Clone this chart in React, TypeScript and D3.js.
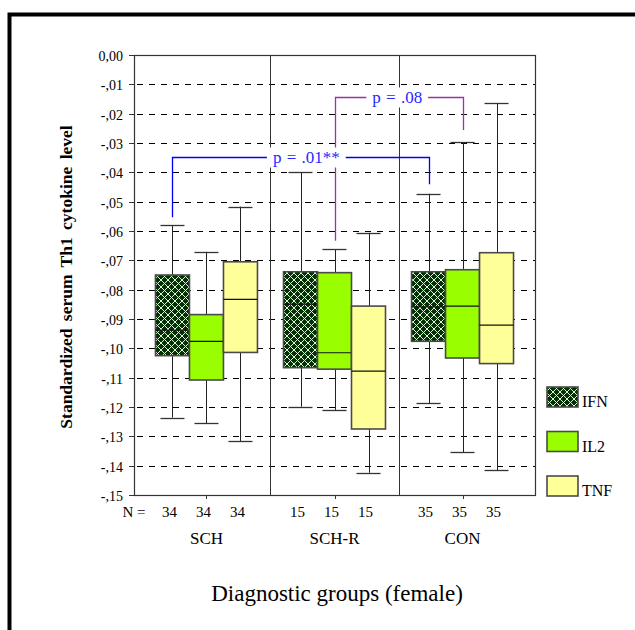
import React from "react";
import * as d3 from "d3";

const groups = ["SCH", "SCH-R", "CON"];
const series = ["IFN", "IL2", "TNF"];
const nCounts = [34, 15, 35];
const seriesColors = ["url(#ifnHatch)", "#99FF00", "#FFFF99"];

// per series, per group
const upperWhisker = [
  [-0.058, -0.040, -0.0473],
  [-0.0671, -0.0663, -0.0297],
  [-0.0517, -0.0606, -0.0164],
];
const q3 = [
  [-0.075, -0.0739, -0.0739],
  [-0.0885, -0.0742, -0.0732],
  [-0.0705, -0.0856, -0.0674],
];
const medians = [
  [-0.0938, -0.0849, -0.0859],
  [-0.0976, -0.1015, -0.0856],
  [-0.0833, -0.1078, -0.0921],
];
const q1 = [
  [-0.1025, -0.1066, -0.0976],
  [-0.1108, -0.1071, -0.1033],
  [-0.1014, -0.1275, -0.1052],
];
const lowerWhisker = [
  [-0.1236, -0.1199, -0.1188],
  [-0.1256, -0.121, -0.1354],
  [-0.1316, -0.1424, -0.1415],
];

const tickValues = d3.range(0, 16).map((i) => -i / 100);
const tickLabels = [
  "0,00", "-,01", "-,02", "-,03", "-,04", "-,05", "-,06", "-,07",
  "-,08", "-,09", "-,10", "-,11", "-,12", "-,13", "-,14", "-,15",
];

// significance annotations (group/series endpoints, levels in data units, label at group coordinate)
const brackets = [
  { label: "p = .08", color: "#9933A0", g1: 1, s1: 1, g2: 2, s2: 1, level: -0.0144, end1: -0.0633, end2: -0.0256, labelAt: 1.49 },
  { label: "p = .01**", color: "#0000FF", g1: 0, s1: 0, g2: 2, s2: 0, level: -0.0349, end1: -0.0553, end2: -0.0441, labelAt: 0.78 },
];

const FONT = "Liberation Serif";

function measure(text: string, size: number): number {
  try {
    const ctx = document.createElement("canvas").getContext("2d");
    if (ctx) {
      ctx.font = `${size}px "${FONT}"`;
      return ctx.measureText(text).width;
    }
  } catch (e) {}
  return text.length * size * 0.45;
}

export default function App() {
  const left = 134, right = 535, top = 55, bottom = 495;
  const x = d3.scaleLinear().domain([-0.566, 2.566]).range([left, right]);
  const y = d3.scaleLinear().domain([0, -0.15]).range([top, bottom]);
  const band = d3.scaleBand<string>().domain(series).range([-51, 51]).padding(0);
  const bw = band.bandwidth();
  const cx = (g: number, s: number) => x(g) + (band(series[s]) as number) + bw / 2;
  const px = (v: number) => Math.round(v) + 0.5;
  const capW = 24;

  return (
    <svg
      width={635}
      height={630}
      style={{ position: "absolute", left: 0, top: 0, display: "block" }}
      fontFamily={FONT}
    >
      <defs>
        <pattern id="ifnHatch" patternUnits="userSpaceOnUse" width={7} height={7}>
          <rect width={7} height={7} fill="#003300" />
          <path d="M-1,-1 L8,8 M8,-1 L-1,8" stroke="#e4eee4" strokeWidth={1} fill="none" />
        </pattern>
      </defs>
      <rect width={635} height={630} fill="#fff" />
      <rect x={9.5} y={14.5} width={800} height={800} fill="none" stroke="#000" strokeWidth={4} />

      {tickValues.slice(1, -1).map((v) => (
        <line key={"g" + v} x1={left} x2={right} y1={px(y(v))} y2={px(y(v))}
          stroke="#000" strokeDasharray="6,6" strokeDashoffset={-3} />
      ))}

      {tickValues.map((v, i) => (
        <g key={"t" + i}>
          <line x1={left - 5} x2={left} y1={px(y(v))} y2={px(y(v))} stroke="#333" />
          <text x={left - 11} y={px(y(v)) + 5} textAnchor="end" fontSize={14} fontFamily={FONT}>
            {tickLabels[i]}
          </text>
        </g>
      ))}

      {[0.5, 1.5].map((v) => (
        <line key={"s" + v} x1={px(x(v))} x2={px(x(v))} y1={top} y2={bottom} stroke="#333" />
      ))}

      <rect x={left + 0.5} y={top + 0.5} width={right - left} height={bottom - top}
        fill="none" stroke="#333" strokeWidth={1.2} />

      {groups.map((_, g) => (
        <line key={"bt" + g} x1={px(x(g))} x2={px(x(g))} y1={bottom} y2={bottom + 4} stroke="#333" />
      ))}

      {series.map((_, s) =>
        groups.map((_, g) => {
          const c = cx(g, s);
          const x0 = c - bw / 2;
          return (
            <g key={`b${s}-${g}`}>
              <line x1={px(c)} x2={px(c)} y1={y(upperWhisker[s][g])} y2={y(q3[s][g])} stroke="#222" />
              <line x1={px(c)} x2={px(c)} y1={y(q1[s][g])} y2={y(lowerWhisker[s][g])} stroke="#222" />
              {[upperWhisker[s][g], lowerWhisker[s][g]].map((v, k) => (
                <line key={k} x1={c - capW / 2} x2={c + capW / 2} y1={px(y(v))} y2={px(y(v))}
                  stroke="#333" strokeWidth={1.3} />
              ))}
              <rect x={x0} y={y(q3[s][g])} width={bw} height={y(q1[s][g]) - y(q3[s][g])}
                fill={seriesColors[s]} stroke="#4a4a4a" strokeWidth={1.6} />
              <line x1={x0} x2={x0 + bw} y1={y(medians[s][g])} y2={y(medians[s][g])}
                stroke="#111" strokeWidth={1.2} />
            </g>
          );
        })
      )}

      {brackets.map((b) => {
        const xa = px(cx(b.g1, b.s1));
        const xb = px(cx(b.g2, b.s2));
        const yl = px(y(b.level));
        const mid = x(b.labelAt);
        const w = measure(b.label, 17) + 4;
        return (
          <g key={b.label}>
            <path d={`M${xa},${y(b.end1)} V${yl} H${xb} V${y(b.end2)}`} fill="none"
              stroke={b.color} strokeWidth={1.3} />
            <rect x={mid - w / 2 - 5} y={yl - 10} width={w + 10} height={20} fill="#fff" />
            <text x={mid} y={yl + 5} textAnchor="middle" fontSize={17} wordSpacing={1}
              fill="#2828FF" fontFamily={FONT}>
              {b.label}
            </text>
          </g>
        );
      })}

      <text x={left} y={517} textAnchor="middle" fontSize={15} fontFamily={FONT}>N =</text>
      {series.map((_, s) =>
        groups.map((_, g) => (
          <text key={`n${s}-${g}`} x={cx(g, s) - 3} y={517} textAnchor="middle" fontSize={15} fontFamily={FONT}>
            {String(nCounts[g])}
          </text>
        ))
      )}

      {groups.map((name, g) => (
        <text key={name} x={x(g)} y={544} textAnchor="middle" fontSize={17} fontFamily={FONT}>
          {name}
        </text>
      ))}

      <text x={337} y={601} textAnchor="middle" fontSize={23} fontFamily={FONT}>
        Diagnostic groups (female)
      </text>

      <text transform="translate(72,277) rotate(-90)" textAnchor="middle" fontSize={17.5}
        fontWeight="bold" wordSpacing={3} fontFamily={FONT}>
        Standardized serum Th1 cytokine level
      </text>

      {series.map((name, s) => {
        const ly = 387 + s * 44.5;
        return (
          <g key={"l" + name}>
            <rect x={547} y={ly} width={31} height={20} fill={seriesColors[s]} stroke="#4a4a4a" strokeWidth={1.6} />
            <text x={582} y={ly + 20} fontSize={16} fontFamily={FONT}>{name}</text>
          </g>
        );
      })}
    </svg>
  );
}
